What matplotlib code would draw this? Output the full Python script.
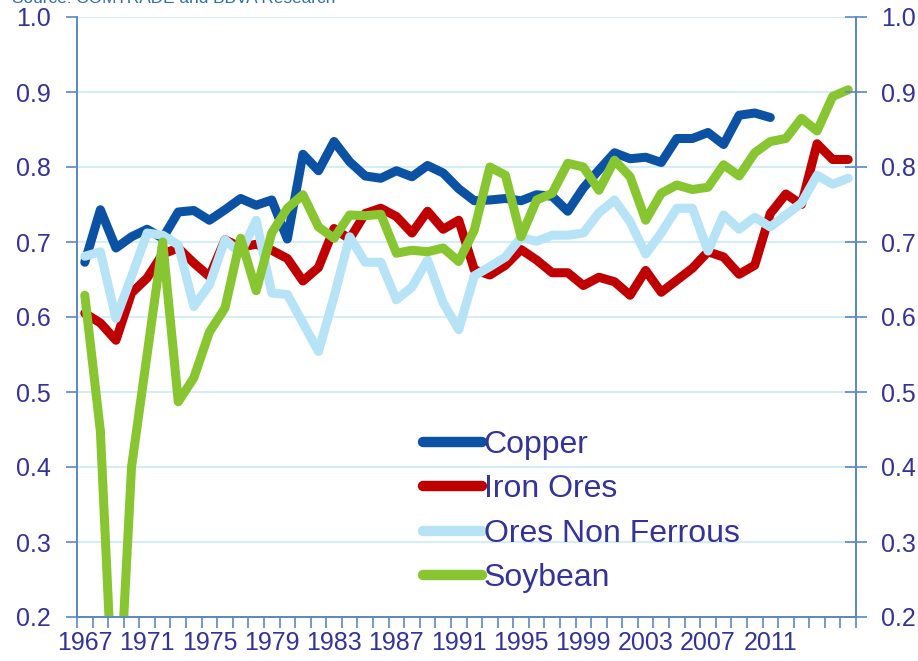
import numpy as np
import matplotlib
matplotlib.use("Agg")
import matplotlib.pyplot as plt

plt.rcParams['font.family'] = ['Liberation Sans', 'DejaVu Sans']

# Daten
years = list(range(1967, 2017))

copper = [0.673, 0.743, 0.692, 0.707, 0.717, 0.705, 0.740, 0.742, 0.729, 0.743,
          0.758, 0.749, 0.756, 0.704, 0.817, 0.795, 0.834, 0.807, 0.788, 0.785,
          0.795, 0.787, 0.802, 0.792, 0.771, 0.755, 0.756, 0.758, 0.755, 0.763,
          0.761, 0.741, 0.772, 0.796, 0.819, 0.811, 0.813, 0.806, 0.838, 0.838,
          0.846, 0.830, 0.869, 0.872, 0.866,
          np.nan, np.nan, np.nan, np.nan, np.nan]

iron_ores = [0.605, 0.592, 0.569, 0.632, 0.652, 0.684, 0.692, 0.672, 0.654, 0.703,
             0.693, 0.697, 0.689, 0.678, 0.648, 0.666, 0.718, 0.704, 0.738, 0.745,
             0.734, 0.712, 0.741, 0.717, 0.729, 0.663, 0.656, 0.669, 0.690, 0.676,
             0.659, 0.659, 0.642, 0.653, 0.647, 0.629, 0.662, 0.633, 0.649, 0.665,
             0.687, 0.680, 0.657, 0.669, 0.738, 0.764, 0.750, 0.831, 0.810, 0.810]

ores_non_ferrous = [0.681, 0.687, 0.598, 0.654, 0.712, 0.709, 0.696, 0.614, 0.643, 0.703,
                    0.685, 0.729, 0.632, 0.630, 0.592, 0.554, 0.627, 0.707, 0.673, 0.673,
                    0.623, 0.640, 0.676, 0.619, 0.583, 0.655, 0.667, 0.680, 0.706, 0.701,
                    0.709, 0.709, 0.712, 0.739, 0.756, 0.727, 0.684, 0.712, 0.745, 0.745,
                    0.688, 0.736, 0.717, 0.733, 0.720, 0.736, 0.752, 0.789, 0.777, 0.785]

soybean = [0.629, 0.448, 0.000, 0.400, 0.550, 0.700, 0.487, 0.519, 0.580, 0.612,
           0.705, 0.635, 0.712, 0.745, 0.763, 0.720, 0.705, 0.736, 0.735, 0.737,
           0.685, 0.689, 0.687, 0.692, 0.674, 0.716, 0.800, 0.789, 0.707, 0.756,
           0.765, 0.805, 0.800, 0.769, 0.809, 0.787, 0.729, 0.765, 0.776, 0.770,
           0.773, 0.803, 0.788, 0.819, 0.834, 0.838, 0.865, 0.848, 0.894, 0.903]

series = [("Copper", copper, "#0B52A5"),
          ("Iron Ores", iron_ores, "#C00000"),
          ("Ores Non Ferrous", ores_non_ferrous, "#B7E3F7"),
          ("Soybean", soybean, "#87C630")]

y_ticks = [0.2, 0.3, 0.4, 0.5, 0.6, 0.7, 0.8, 0.9, 1.0]

txt_col = "#333399"
axis_col = "#5B87C5"

#%% Plot
fig = plt.figure(figsize=(9.18, 6.61), dpi=100)
ax = fig.add_axes([77/918, 44/661, 779/918, 600/661])

x = np.arange(len(years))
for name, vals, col in series:
    ax.plot(x, vals, color=col, lw=6.5, label=name,
            solid_capstyle="round", solid_joinstyle="round", zorder=3)

ax.set_xlim(-0.5, len(years) - 0.5)
ax.set_ylim(0.2, 1.0)

# x-Achse: Kategorien, Striche an den Grenzen
lab_idx = x[::4][:12]
ax.set_xticks(lab_idx)
ax.set_xticklabels([str(years[i]) for i in lab_idx])
ax.set_xticks(np.arange(-0.5, len(years)), minor=True)
ax.tick_params(axis="x", which="major", length=0, pad=10, labelsize=18, labelcolor=txt_col)
ax.tick_params(axis="x", which="minor", length=8, width=1.2, color=axis_col, direction="out")

ax.set_yticks(y_ticks)
ax.set_yticklabels(["%.1f" % v for v in y_ticks])
ax.tick_params(axis="y", length=8, width=1.2, color=axis_col, direction="out",
               pad=11, labelsize=18, labelcolor=txt_col)

ax2 = ax.twinx()
ax2.set_ylim(0.2, 1.0)
ax2.set_yticks(y_ticks)
ax2.set_yticklabels(["%.1f" % v for v in y_ticks])
ax2.tick_params(axis="y", length=16, width=1.2, color=axis_col, direction="inout",
                pad=10, labelsize=18, labelcolor=txt_col)

for a in (ax, ax2):
    a.spines["top"].set_visible(False)
    for s in ("left", "right", "bottom"):
        a.spines[s].set_color(axis_col)
        a.spines[s].set_linewidth(1.2)

ax.yaxis.grid(True, color="#D3EDF9", lw=1.5, zorder=0)
ax.set_axisbelow(True)

# Legende
leg = ax2.legend(*ax.get_legend_handles_labels(), loc="upper left",
                 bbox_to_anchor=(423/918, 1 - 430/661),
                 bbox_transform=fig.transFigure, frameon=False, fontsize=23,
                 handlelength=1.85, handletextpad=0.05, labelspacing=0.45,
                 borderpad=0, borderaxespad=0)
for t in leg.get_texts():
    t.set_color(txt_col)
for h in leg.get_lines():
    h.set_linewidth(7.5)
    h.set_solid_capstyle("round")

# Quelle (oben abgeschnitten wie im Original)
fig.text(12/918, 1 - 3/661, "Source: COMTRADE and BBVA Research", fontsize=12.4,
         color="#2E6DB4", ha="left", va="baseline")

fig.savefig("out.png", dpi=100)
